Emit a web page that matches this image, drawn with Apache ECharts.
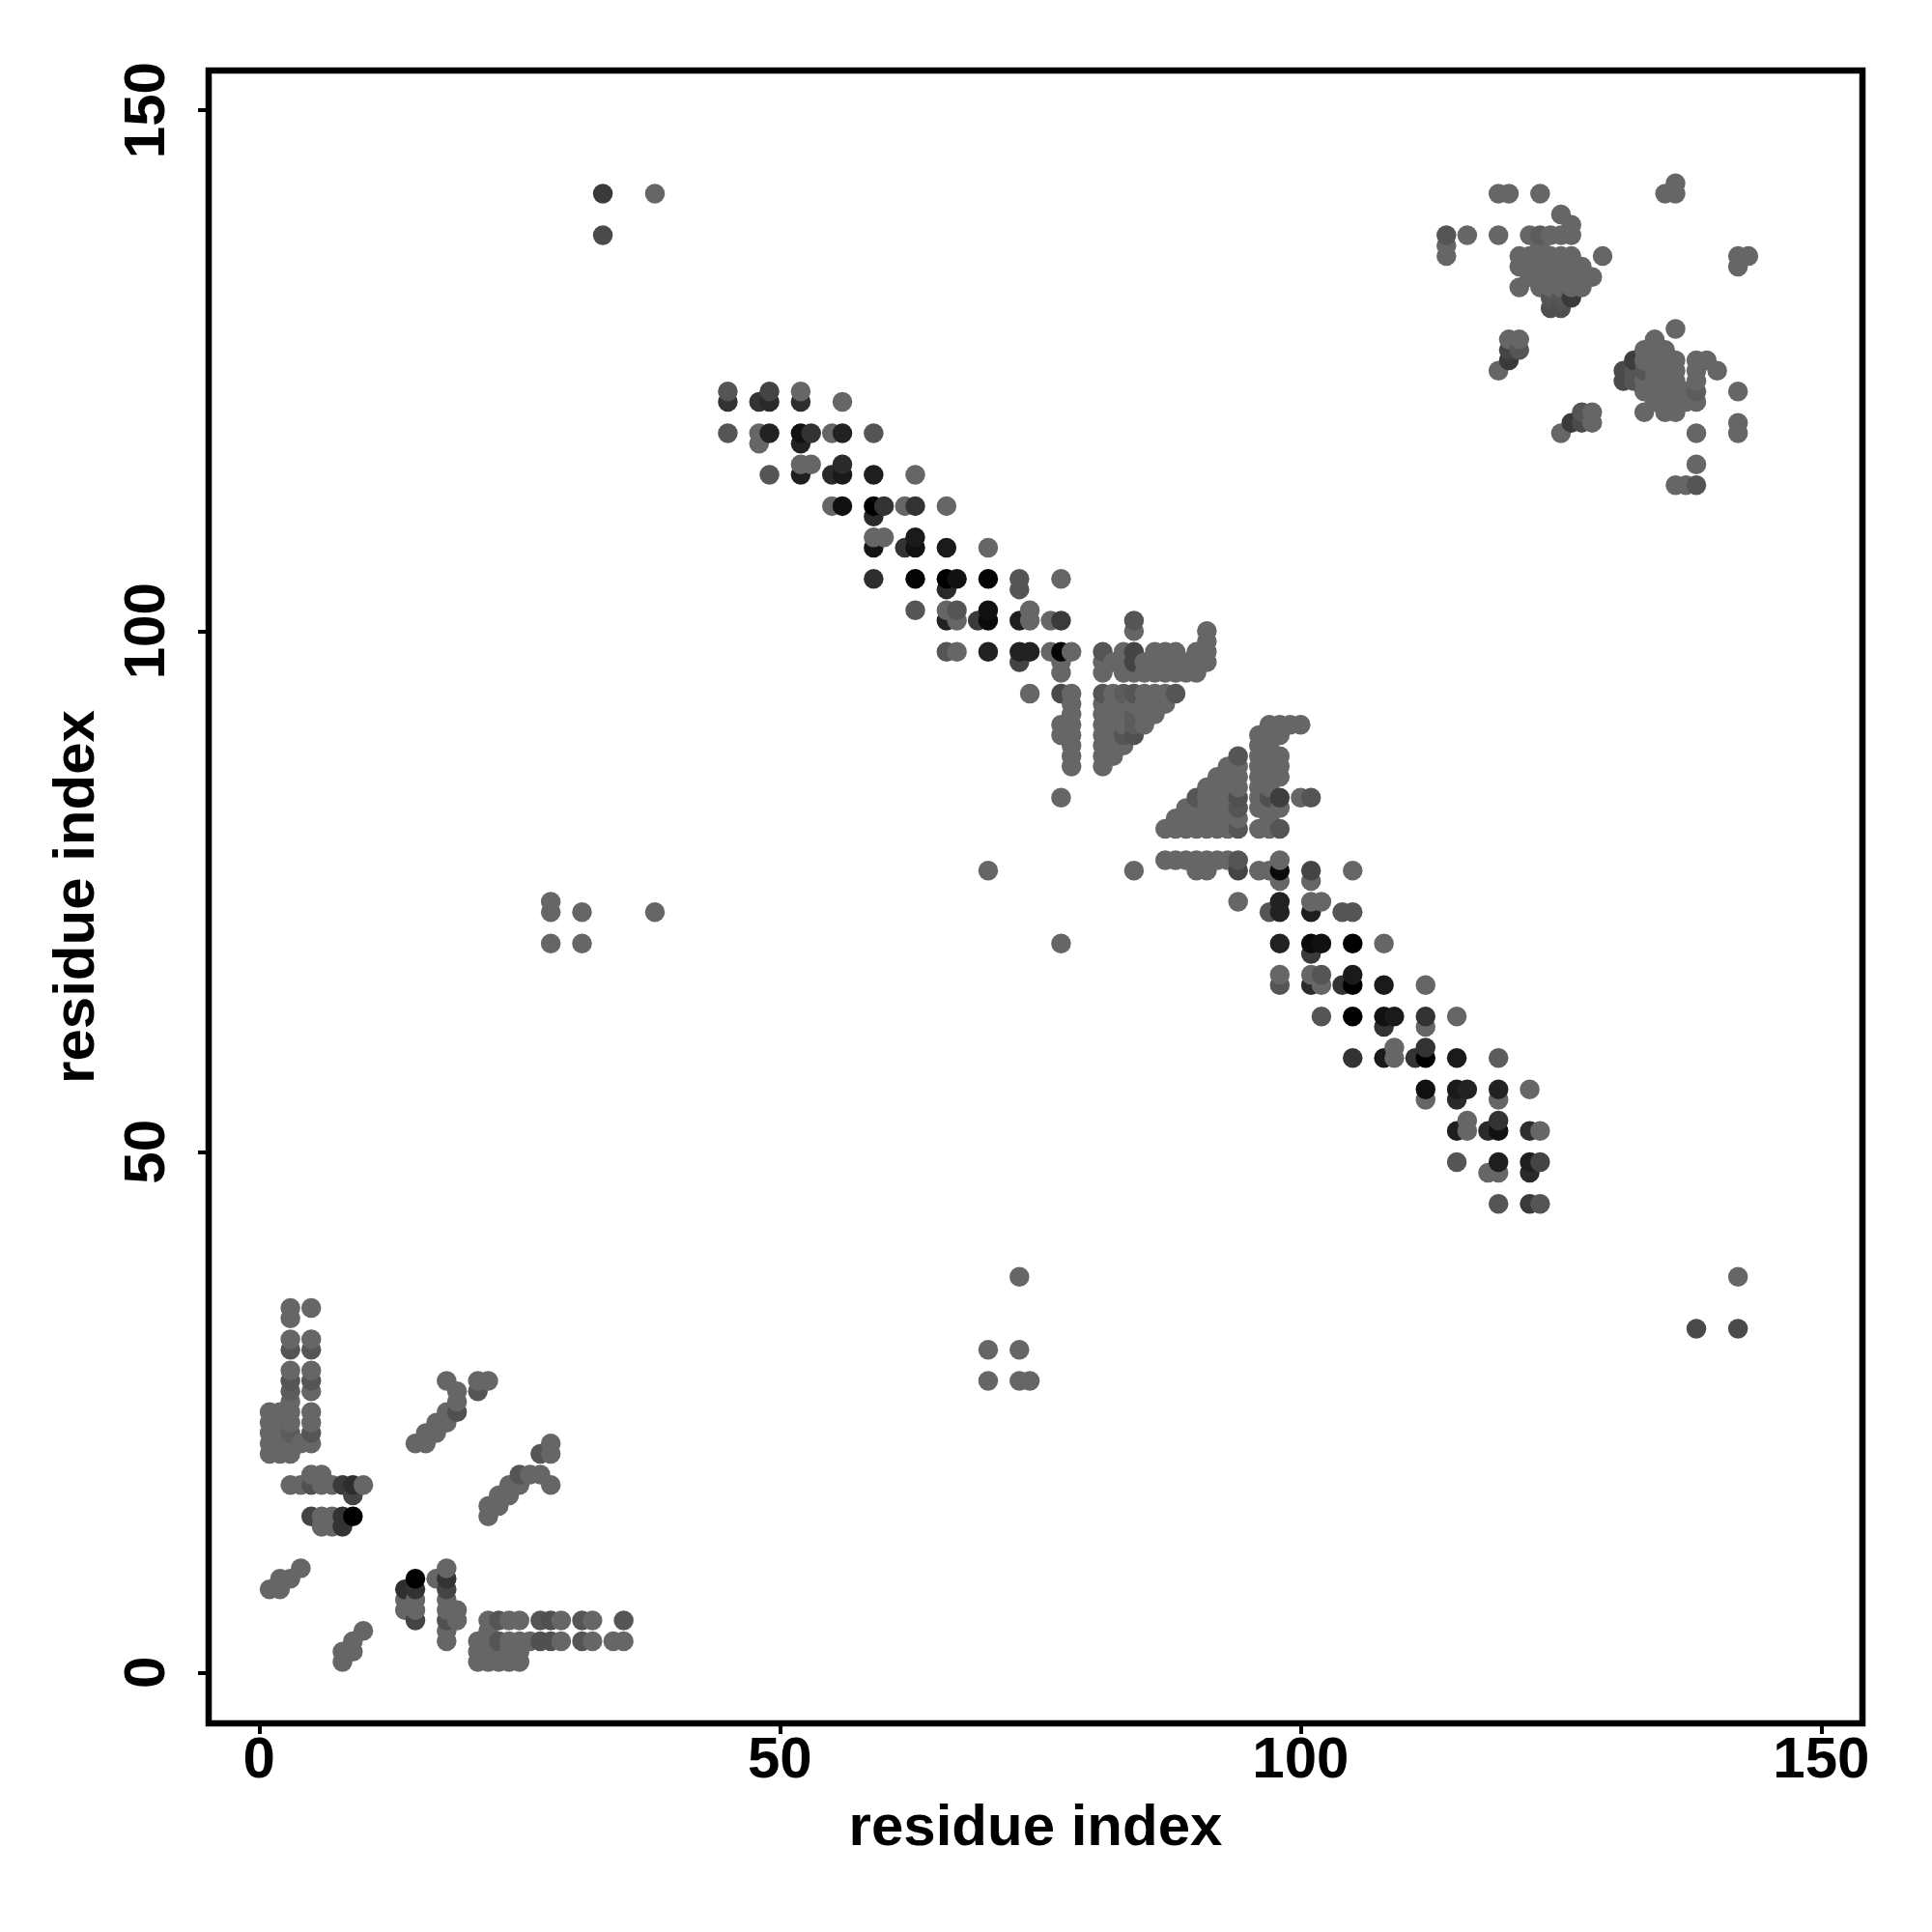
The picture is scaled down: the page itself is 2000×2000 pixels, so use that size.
<!DOCTYPE html>
<html><head><meta charset="utf-8"><style>html,body{margin:0;background:#fff}#c{width:2000px;height:2000px}</style>
<script src="https://cdn.jsdelivr.net/npm/echarts@6/dist/echarts.min.js"></script></head><body><div id="c"></div>
<script>
const tickValues = [0, 50, 100, 150];
const axisTitle = 'residue index';
const baseGray = 102;
// each row: y, then the x values at that y
const rowsBottomLeft = [
[35,3,5],[34,3],[32,3,5],[31,3,5],[29,3,5],[28,3,5,18,21,22],[27,3,5,19,21],[26,3,19],
[25,1,2,3,5,18,19],[24,1,2,3,5,17,18],[23,1,2,3,5,16,17],[22,1,2,3,4,5,15,16,28],[21,1,2,3,27,28],
[19,5,6,25,26,27],[18,3,4,5,6,7,8,9,10,24,25,28],[17,9,23,24],[16,22,23],[15,5,6,7,8,9,22],[14,6,7,8],
[10,4,18],[9,2,3,15,17,18],[8,1,2,14,15,18],[7,14,15,18],[6,14,15,18,19],
[5,15,18,19,22,23,24,25,27,28,29,31,32,35],[4,10,18,22],[3,9,18,21,22,23,24,25,26,27,28,29,31,32,34,35],
[2,8,9,21,22,23,24,25],[1,8,21,22,23,24,25]];
const rowsIsolated = [
[142,33,38],[138,33],[74,28],[73,28,31,38],[70,28,31],[77,70],[38,73,142],[33,138,142],[31,70,73],[28,70,73,74]];
const rowsUpperStrand = [
[123,45,49,52],[122,45,48,49,52,56],[119,45,48,49,52,53,55,56,59],[118,48,52],[116,52,53,56],
[115,49,52,55,56,59,63],[112,55,56,59,60,62,63,66],[111,59],[109,59,60,63],[108,59,62,63,66,70],
[105,59,63,66,67,70,73,77],[104,66,73],[102,63,66,67,70,74],[101,66,67,69,70,73,74,76,77],
[98,66,67,70,73,74,76,77,78],[97,73,77],[96,77],[94,74,77,78]];
const rowsUpperTriangle = [
[101,84],[100,84,91],[99,91],[98,81,83,84,86,87,88,90,91],[97,81,82,83,84,85,86,87,88,89,90,91],
[96,81,83,84,85,86,87,88,89,90],[94,81,82,83,84,85,86,87,88],[93,78,81,82,83,84,85,86,87],
[92,78,81,82,83,84,85,86],[91,77,78,81,82,83,84,85],[90,77,78,81,82,83,84],[89,78,81,82,83],
[88,78,81,82],[87,78,81],[84,77]];
const rowsLowerTriangle = [
[88,94],[87,93,94],[86,92,93,94],[85,91,92,93,94],[84,90,91,92,93,94],[83,89,90,91,92,93,94],
[82,88,89,90,91,92,93,94],[81,87,88,89,90,91,92,93,94],
[91,97,98,99,100],[90,96,97,98],[89,96,97],[88,96,97,98],[87,96,97,98],[86,96,97,98],[85,96,97],
[84,96,97,98,100,101],[83,96,97,98],[82,97],[81,96,97,98]];
const rowsLowerStrand = [
[78,87,88,89,90,91,92,93,94,98],[77,84,90,91,94,96,97,98,101,105],[76,98,101],[74,94,98,101,102],
[73,97,98,101,104,105],[70,77,98,101,102,105,108],[69,101],[67,98,101,102,105],
[66,98,101,102,104,105,108,112],[63,102,105,108,109,112,115],[62,108,112],[60,109,112],
[59,105,108,109,111,112,115,119],[56,112,115,116,119,122],[55,112,115,119],[53,116,119],
[52,115,116,118,119,122,123],[49,115,119,122,123],[48,118,119,122],[45,119,122,123]];
const rowsTopRight = [
[143,136],[142,119,120,123,135,136],[140,125],[139,126],[138,114,116,119,122,123,124,125,126],[137,114,123],
[136,114,121,122,123,124,125,126,129,142,143],[135,121,122,123,124,125,126,127,142],
[134,122,123,124,125,126,127,128],[133,121,123,124,125,126,127],[132,124,125,126],[131,124,125],
[129,136],[128,120,121,134],[127,120,121,133,134,135],[126,120,132,133,134,135,136,138,139],
[125,119,131,132,133,134,135,136,138,140],[124,131,132,133,134,135,136,138],
[123,133,134,135,136,137,138,142],[122,134,135,136,137,138],[121,127,128,133,135,136],
[120,126,127,128,142],[119,125,138,142],[116,138],[114,136,137,138]];
// darker points: gray level, then x,y pairs
const shades = [
[0, 59,112, 66,105, 105,70, 105,66, 105,63, 112,59, 15,9, 9,15],
[5, 63,105, 70,105, 77,98],
[10, 70,101, 98,77, 101,70],
[17, 52,119, 56,112, 63,108, 67,105, 70,102, 102,70, 108,63, 112,56, 119,52],
[20, 59,108],
[26, 56,115, 63,109, 66,108, 105,67, 108,66, 109,63, 108,59, 115,59, 115,56],
[30, 52,115, 59,115, 73,101, 101,73, 115,52, 119,49, 122,49],
[34, 49,119, 52,118, 56,119, 66,101, 70,98, 73,98, 74,98, 98,74, 98,73, 98,70, 116,56, 119,56],
[42, 49,122, 55,115, 56,116, 59,111, 66,104, 101,66, 115,55, 118,52, 122,48],
[46, 52,122, 59,105, 122,52, 14,8, 9,18],
[51, 45,122, 48,122, 53,119, 60,112, 62,108, 63,112, 104,66, 108,62, 112,63, 105,59, 111,59, 112,60, 119,53, 8,15, 8,14, 15,8, 18,9],
[58, 33,142, 69,101, 77,101, 101,69, 122,45, 8,18, 120,126, 126,132, 126,120],
[62, 98,84, 132,126],
[68, 49,123, 73,97, 84,98, 84,97, 94,77, 101,77, 123,49, 120,127, 5,15, 9,17, 15,5, 18,8],
[74, 33,138, 138,33, 142,33, 77,94, 127,120, 131,125, 131,124],
[80, 94,84, 97,84, 124,131, 125,131, 84,90, 19,25, 5,18, 18,5, 28,5, 27,3, 28,3],
[85, 45,123, 45,119, 49,115, 59,119, 73,105, 73,104, 63,102, 67,102, 66,98, 84,101, 81,98, 81,94, 84,94, 88,94, 83,90,
     94,88, 90,84, 101,84, 98,81, 94,81, 94,83, 94,78, 97,73, 104,73, 105,73, 98,66, 102,67, 102,63, 115,49, 119,45, 123,45,
     114,138, 124,132, 125,132, 121,127, 127,121, 132,125, 132,124, 133,125, 138,114,
     3,31, 5,31, 3,28, 5,28, 5,23, 21,27, 25,19, 27,21, 23,5, 27,5, 31,5, 31,3, 23,3, 35,5],
[92, 119,59, 83,94, 84,91, 84,92, 123,138, 138,123, 3,27, 3,23]
];

const allRows = [rowsBottomLeft, rowsIsolated, rowsUpperStrand, rowsUpperTriangle, rowsLowerTriangle, rowsLowerStrand, rowsTopRight];
const table = new Map();
allRows.forEach(rows => rows.forEach(r => {
  for (let i = 1; i < r.length; i++) table.set(r[i] + ',' + r[0], [r[i], r[0], baseGray]);
}));
shades.forEach(s => {
  for (let i = 1; i < s.length; i += 2) {
    const k = s[i] + ',' + s[i + 1];
    if (table.has(k)) table.get(k)[2] = s[0];
  }
});
const points = Array.from(table.values()).sort((a, b) => a[0] - b[0] || a[1] - b[1]);
const data = points.map(p => ({ value: [p[0], p[1]], itemStyle: { color: `rgb(${p[2]},${p[2]},${p[2]})` } }));

const font = { fontFamily: 'Liberation Sans', fontWeight: 'bold', fontSize: 60, color: '#000' };
const chart = echarts.init(document.getElementById('c'), null, { renderer: 'canvas' });
chart.setOption({
  animation: false,
  backgroundColor: '#fff',
  grid: { show: true, left: 216, right: 72, top: 73, bottom: 216, borderColor: '#000', borderWidth: 6.5, backgroundColor: 'transparent' },
  xAxis: {
    type: 'value', min: -4.85, max: 153.95, splitLine: { show: false },
    axisLine: { show: false, onZero: false },
    axisTick: { show: true, length: 11, lineStyle: { color: '#000', width: 4 }, customValues: tickValues },
    axisLabel: Object.assign({ margin: 9, customValues: tickValues, hideOverlap: false }, font),
    name: axisTitle, nameLocation: 'middle', nameGap: 79, nameTextStyle: font
  },
  yAxis: {
    type: 'value', min: -4.88, max: 153.82, splitLine: { show: false },
    axisLine: { show: false, onZero: false },
    axisTick: { show: true, length: 11, lineStyle: { color: '#000', width: 4 }, customValues: tickValues },
    axisLabel: Object.assign({ margin: 33, rotate: 90, customValues: tickValues, hideOverlap: false }, font),
    name: axisTitle, nameLocation: 'middle', nameGap: 106, nameRotate: 90, nameTextStyle: font
  },
  series: [{ type: 'scatter', symbol: 'circle', symbolSize: 20.5, data: data, silent: true, itemStyle: { opacity: 1 } }]
});
</script></body></html>
